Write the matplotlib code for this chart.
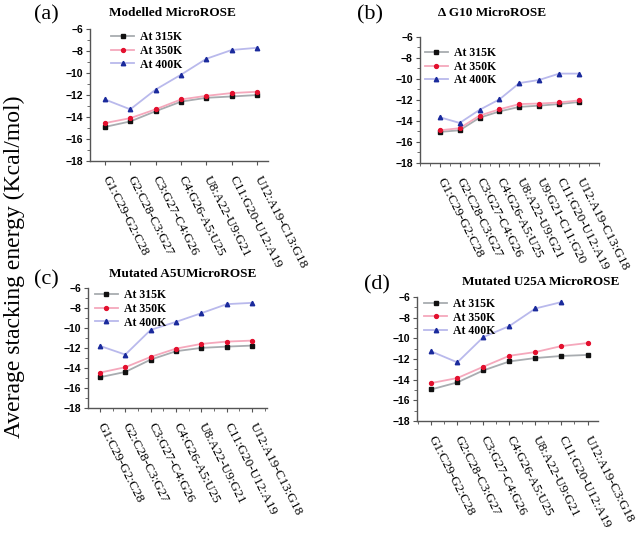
import numpy as np
import matplotlib
matplotlib.use('Agg')
import matplotlib.pyplot as plt
from matplotlib.ticker import MultipleLocator

# category labels
labels_a = ['G1:C29-G2:C28', 'G2:C28-C3:G27', 'C3:G27-C4:G26', 'C4:G26-A5:U25',
            'U8:A22-U9:G21', 'C11:G20-U12:A19', 'U12:A19-C13:G18']
labels_b = ['G1:C29-G2:C28', 'G2:C28-C3:G27', 'C3:G27-C4:G26', 'C4:G26-A5:U25',
            'U8:A22-U9:G21', 'U9:G21-C11:G20', 'C11:G20-U12:A19', 'U12:A19-C13:G18']
labels_c = labels_a
labels_d = ['G1:C29-G2:C28', 'G2:C28-C3:G27', 'C3:G27-C4:G26', 'C4:G26-A5:U25',
            'U8:A22-U9:G21', 'C11:G20-U12:A19', 'U12:A19-C3:G18']

# (a) Modelled MicroROSE
a_315 = [-14.9, -14.4, -13.47, -12.6, -12.25, -12.13, -12.0]
a_350 = [-14.55, -14.1, -13.3, -12.4, -12.07, -11.82, -11.7]
a_400 = [-12.4, -13.3, -11.5, -10.15, -8.7, -7.9, -7.7]
# (b) delta G10 MicroROSE
b_315 = [-15.05, -14.9, -13.7, -13.1, -12.67, -12.55, -12.4, -12.2]
b_350 = [-14.9, -14.7, -13.5, -12.9, -12.4, -12.35, -12.25, -12.05]
b_400 = [-13.65, -14.2, -12.95, -11.95, -10.4, -10.1, -9.5, -9.5]
# (c) Mutated A5U MicroROSE
c_315 = [-14.93, -14.4, -13.17, -12.33, -12.0, -11.87, -11.77]
c_350 = [-14.47, -13.93, -12.9, -12.07, -11.6, -11.37, -11.27]
c_400 = [-11.8, -12.67, -10.2, -9.4, -8.53, -7.63, -7.5]
# (d) Mutated U25A MicroROSE
d_315 = [-14.94, -14.26, -13.1, -12.23, -11.9, -11.7, -11.6]
d_350 = [-14.32, -13.84, -12.74, -11.68, -11.32, -10.74, -10.45]
d_400 = [-11.26, -12.32, -9.87, -8.8, -7.1, -6.48]

serif = ['Liberation Serif', 'DejaVu Serif']
sans = ['Liberation Sans', 'DejaVu Sans']

fig = plt.figure(figsize=(6.38, 5.34), dpi=100)

panels = [
    # rect, labels, series, xlim, legend anchor, minor x
    ([0.141, 0.6985, 0.279, 0.247], labels_a, (a_315, a_350, a_400), (0.41, 7.43), (0.12, 0.985), False),
    ([0.658, 0.695, 0.281, 0.236], labels_b, (b_315, b_350, b_400), (0.0, 9.0), (0.03, 0.92), True),
    ([0.138, 0.236, 0.281, 0.225], labels_c, (c_315, c_350, c_400), (0.53, 7.6), (0.04, 0.99), True),
    ([0.654, 0.2116, 0.284, 0.232], labels_d, (d_315, d_350, d_400), (0.46, 7.42), (0.04, 0.995), True),
]

for rect, labs, (s315, s350, s400), xl, anchor, minor in panels:
    ax = fig.add_axes(rect)
    x = np.arange(1, len(labs) + 1)
    ax.plot(x[:len(s315)], s315, color='#a8acb0', lw=1.3, marker='s', ms=2.6,
            mfc='#111111', mec='#111111', label='At 315K')
    ax.plot(x[:len(s350)], s350, color='#f5a8bc', lw=1.3, marker='o', ms=2.8,
            mfc='#e3102e', mec='#e3102e', label='At 350K')
    ax.plot(x[:len(s400)], s400, color='#b9b9ec', lw=1.3, marker='^', ms=3.2,
            mfc='#1a2a9c', mec='#1a2a9c', label='At 400K')
    ax.set_xlim(*xl)
    ax.set_ylim(-18, -6)
    ax.set_xticks(x)
    ax.set_xticklabels(labs, rotation=-63, ha='left', va='center',
                       rotation_mode='anchor', family=serif, fontsize=9.5)
    if minor:
        ax.xaxis.set_minor_locator(MultipleLocator(0.5))
    ax.yaxis.set_major_locator(MultipleLocator(2))
    ax.yaxis.set_minor_locator(MultipleLocator(1))
    for t in ax.get_yticklabels():
        t.set_family(sans)
        t.set_fontweight('bold')
        t.set_fontsize(7.5)
    for sp in ['top', 'right']:
        ax.spines[sp].set_visible(False)
    for sp in ['left', 'bottom']:
        ax.spines[sp].set_color('#555555')
        ax.spines[sp].set_linewidth(1.0)
    ax.tick_params(axis='x', which='major', length=3, pad=8, color='#555555')
    ax.tick_params(axis='y', which='major', length=3, pad=2, color='#555555')
    ax.tick_params(which='minor', length=2, color='#555555')
    ax.legend(loc='upper left', bbox_to_anchor=anchor, frameon=False,
              prop={'family': serif, 'weight': 'bold', 'size': 8.5},
              handlelength=1.9, handletextpad=0.5, labelspacing=0.15,
              borderpad=0, borderaxespad=0)

title_kw = dict(family=serif, fontweight='bold', fontsize=9.5, ha='center', va='center')
fig.text(0.27, 0.976, 'Modelled MicroROSE', **title_kw)
fig.text(0.771, 0.976, 'Δ G10 MicroROSE', **title_kw)
fig.text(0.287, 0.487, 'Mutated A5UMicroROSE', **title_kw)
fig.text(0.848, 0.472, 'Mutated U25A MicroROSE', **title_kw)

lab_kw = dict(family=serif, fontsize=16, ha='center', va='center')
fig.text(0.073, 0.972, '(a)', **lab_kw)
fig.text(0.58, 0.972, '(b)', **lab_kw)
fig.text(0.073, 0.476, '(c)', **lab_kw)
fig.text(0.591, 0.466, '(d)', **lab_kw)

fig.text(0.023, 0.5, 'Average stacking energy (Kcal/mol)', rotation=90,
         family=serif, fontsize=17, ha='center', va='center')

fig.savefig('out.png', dpi=100)
